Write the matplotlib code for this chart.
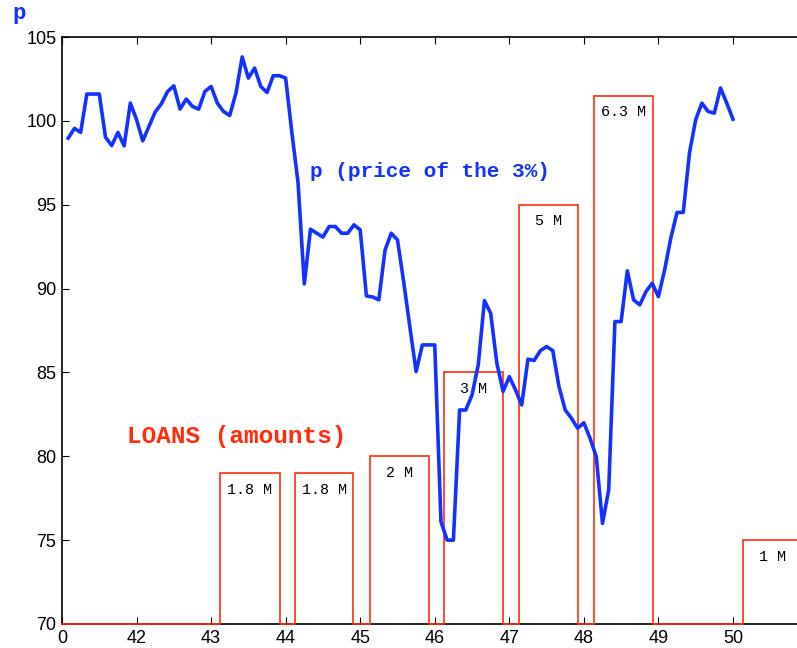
import numpy as np
import matplotlib
matplotlib.use("Agg")
import matplotlib.pyplot as plt

# price of the 3% rente, monthly, 1841-1850 (years shown as 41..50)
months = np.arange(1, 109)
price = [98.97, 99.55, 99.31, 101.6, 101.6, 101.6, 99.03, 98.53, 99.31, 98.51,
         101.06, 100.07, 98.81, 99.67, 100.53, 101.02, 101.75, 102.09, 100.70, 101.30,
         100.86, 100.70, 101.75, 102.05, 101.06, 100.56, 100.32, 101.66, 103.81, 102.55,
         103.15, 102.05, 101.69, 102.69, 102.69, 102.55, 99.3, 96.3, 90.28, 93.54,
         93.3, 93.07, 93.7, 93.7, 93.3, 93.3, 93.8, 93.5, 89.56, 89.5,
         89.33, 92.3, 93.3, 92.9, 90.4, 87.7, 85.05, 86.64, 86.64, 86.64,
         76.1, 75.0, 75.0, 82.76, 82.76, 83.66, 85.45, 89.28, 88.53, 85.55,
         83.86, 84.75, 83.96, 83.06, 85.79, 85.71, 86.30, 86.54, 86.3, 84.15,
         82.76, 82.27, 81.67, 82.0, 81.07, 79.98, 76.0, 77.99, 88.03, 88.03,
         91.06, 89.33, 89.03, 89.82, 90.32, 89.52, 91.11, 93.01, 94.54, 94.54,
         98.08, 100.07, 101.06, 100.56, 100.46, 101.96, 101.06, 100.1]

# loans: start / end of issue period and amount (millions)
loan_start = [43.12, 44.12, 45.13, 46.12, 47.13, 48.14, 50.14]
loan_end = [43.92, 44.91, 45.92, 46.91, 47.92, 48.93, 50.93]
loan_amount = [1.8, 1.8, 2, 3, 5, 6.3, 1]
loan_labels = ["1.8 M", "1.8 M", "2 M", "3 M", "5 M", "6.3 M", "1 M"]

xticks = [41, 42, 43, 44, 45, 46, 47, 48, 49, 50]
xticklabels = ["0", "42", "43", "44", "45", "46", "47", "48", "49", "50"]
yticks = [70, 75, 80, 85, 90, 95, 100, 105]

BLUE = "#1432ff"
RED = "#ff2d0a"
base, scale = 70, 5  # loan bars drawn from the 70 line, 5 units per million

plt.rcParams["font.family"] = ["Liberation Sans", "DejaVu Sans"]

fig = plt.figure(figsize=(7.97, 6.48), dpi=100)
ax = fig.add_axes([62 / 797, 1 - 624 / 648, 745.5 / 797, 587 / 648])

# red step outline of loans
lx, ly = [41], [base]
for s, e, a in zip(loan_start, loan_end, loan_amount):
    top = base + scale * a
    lx += [s, s, e, e]
    ly += [base, top, top, base]
lx.append(51)
ly.append(base)
ax.plot(lx, ly, color=RED, lw=1.2, zorder=3, clip_on=False, solid_joinstyle="miter")

for s, e, a, lab in zip(loan_start, loan_end, loan_amount, loan_labels):
    ax.text((s + e) / 2, base + scale * a - 1.0, lab, ha="center", va="center",
            fontsize=10.8, family="Liberation Mono", color="black")

ax.plot(41 + months / 12, price, color=BLUE, lw=2.6, zorder=4)

ax.text(44.33, 96.96, "p (price of the 3%)", color=BLUE, fontsize=15.2,
        family="Liberation Mono", weight="bold", va="center")
ax.text(41.875, 81.15, "LOANS (amounts)", color=RED, fontsize=17.6,
        family="Liberation Mono", weight="bold", va="center")
fig.text(12 / 797, 1 - 14 / 648, "p", color=BLUE, fontsize=16,
         family="Liberation Mono", weight="bold", va="center")

ax.set_xlim(41, 51)
ax.set_ylim(70, 105)
ax.set_xticks(xticks)
ax.set_xticklabels(xticklabels)
ax.set_yticks(yticks)
ax.tick_params(direction="in", length=5, width=0.8, labelsize=13, pad=4,
               top=True, right=True)
for sp in ax.spines.values():
    sp.set_linewidth(1.2)

fig.savefig("out.png", dpi=100)
